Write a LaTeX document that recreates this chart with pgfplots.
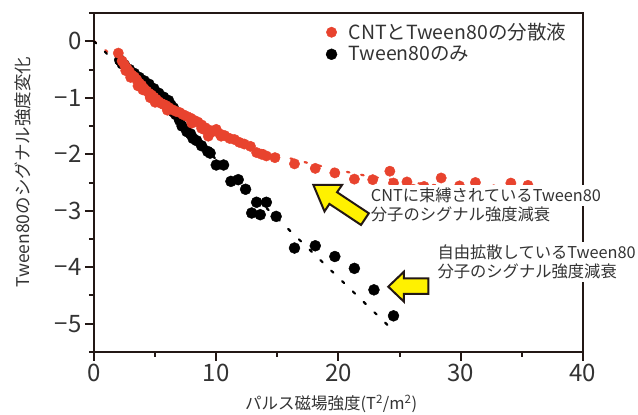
\documentclass[border=0pt]{standalone}
\usepackage{fontspec}
\setmainfont{Noto Sans CJK JP}
\usepackage{pgfplots}
\pgfplotsset{compat=1.18}
\definecolor{dotred}{HTML}{E8432E}
\definecolor{arrowyellow}{HTML}{FFF100}
\definecolor{axisdark}{HTML}{231815}
\definecolor{txtgray}{HTML}{333333}

\begin{document}
\begin{tikzpicture}
\useasboundingbox (-94pt,-63pt) rectangle (544pt,352pt);
\begin{axis}[
    name=main,
    scale only axis,
    width=489pt, height=339pt,
    xmin=0, xmax=40, ymin=-5.5, ymax=0.5,
    xtick={0,10,20,30,40},
    xticklabels={0,10,20,30,40},
    minor xtick={5,15,25,35},
    ytick={-5,-4,-3,-2,-1,0},
    yticklabels={−5,−4,−3,−2,−1,0},
    minor ytick={-5.5,-4.5,-3.5,-2.5,-1.5,-0.5,0.5},
    xtick pos=left, ytick pos=left,
    tick align=outside,
    major tick length=9pt, minor tick length=5pt,
    every tick/.style={axisdark, line width=2pt},
    axis line style={axisdark, line width=2pt},
    tick label style={txtgray, font=\fontsize{24}{28}\selectfont},
    xlabel={パルス磁場強度(T\textsuperscript{2}/m\textsuperscript{2})},
    ylabel={Tween80のシグナル強度変化},
    xlabel style={at={(axis description cs:0.485,-0.153)}, anchor=center, txtgray, font=\fontsize{16.5}{20}\selectfont},
    ylabel style={at={(axis description cs:-0.145,0.53)}, anchor=center, txtgray, font=\fontsize{17.5}{21}\selectfont},
    clip=false,
    reverse legend,
    legend style={draw=none, fill=none, at={(rel axis cs:0.468,0.982)}, anchor=north west,
        font=\fontsize{19.5}{22}\selectfont, text=txtgray, row sep=1pt},
    legend cell align=left,
    legend image code/.code={\draw[#1] plot coordinates {(0cm,0cm)}; \path (15pt,0pt);},
]
% Tween80 only
\addplot[only marks, mark=*, mark size=5.5pt, black] coordinates {
(2.1,-0.33)(2.3,-0.40)(2.5,-0.42)(2.9,-0.50)(3.1,-0.58)(3.3,-0.57)(3.7,-0.64)(3.9,-0.72)
(4.1,-0.70)(4.5,-0.76)(4.7,-0.86)(4.9,-0.84)(5.3,-0.92)(5.5,-1.00)(5.7,-0.99)(6.1,-1.05)
(6.3,-1.13)(6.5,-1.18)(6.7,-1.30)(7.0,-1.40)(7.2,-1.50)(7.6,-1.60)(7.9,-1.64)(8.1,-1.72)
(8.4,-1.76)(8.8,-1.85)(9.3,-1.95)(9.5,-1.98)(10.0,-2.19)(10.6,-2.19)(11.2,-2.48)(11.8,-2.45)
(12.4,-2.62)(13.3,-2.85)(14.1,-2.85)(12.9,-3.04)(13.6,-3.07)(14.9,-3.10)(16.4,-3.66)
(18.1,-3.62)(19.7,-3.81)(21.3,-4.02)(22.9,-4.40)(24.5,-4.86)
};
\addlegendentry{Tween80のみ}
% CNT + Tween80
\addplot[only marks, mark=*, mark size=5.2pt, color=dotred] coordinates {
(1.99,-0.21)(2.3,-0.35)(2.5,-0.42)(2.6,-0.52)(2.7,-0.48)(2.9,-0.54)(3.0,-0.64)(3.1,-0.60)
(3.3,-0.63)(3.5,-0.68)(3.6,-0.79)(3.7,-0.74)(3.9,-0.78)(4.0,-0.86)(4.1,-0.84)(4.3,-0.88)
(4.5,-0.92)(4.6,-1.00)(4.7,-0.95)(4.9,-0.99)(5.0,-1.08)(5.1,-1.03)(5.3,-1.07)(5.5,-1.10)
(5.7,-1.12)(5.9,-1.14)(6.0,-1.22)(6.1,-1.17)(6.4,-1.21)(6.7,-1.24)(7.0,-1.26)(7.3,-1.30)
(7.6,-1.33)(7.9,-1.36)(8.0,-1.45)(8.2,-1.40)(8.5,-1.43)(8.8,-1.48)(8.8,-1.54)(9.0,-1.56)
(9.1,-1.53)(9.35,-1.68)(9.4,-1.57)(9.7,-1.60)(10.0,-1.56)(10.3,-1.64)(10.4,-1.68)(10.7,-1.67)
(11.1,-1.72)(11.5,-1.74)(11.9,-1.79)(12.3,-1.82)(12.8,-1.86)(13.3,-1.97)(13.7,-2.00)
(14.1,-2.03)(14.8,-2.06)
(16.4,-2.17)(18.1,-2.25)(19.7,-2.33)(21.3,-2.44)(22.8,-2.45)(24.2,-2.30)(24.5,-2.51)
(25.6,-2.49)(26.1,-2.62)(27.0,-2.57)(28.4,-2.42)(29.9,-2.56)(31.2,-2.50)(32.7,-2.63)
(34.1,-2.51)(35.5,-2.55)
};
\addlegendentry{CNTとTween80の分散液}
% fitted trends
\addplot[forget plot, dotred, line width=2.2pt, line cap=round, dash pattern=on 2.5pt off 12pt, smooth] coordinates {
(0,0)(1,-0.17)(2,-0.36)(3,-0.56)(4,-0.76)(5,-0.95)(6,-1.12)(7,-1.26)(8,-1.39)(9,-1.50)
(10,-1.60)(12,-1.78)(14,-1.94)(16,-2.07)(18,-2.18)(20,-2.28)(22,-2.37)(24,-2.44)(26,-2.50)
(28,-2.55)(30,-2.60)(32,-2.64)(34,-2.67)(36,-2.71)(38,-2.74)(40,-2.77)
};
\addplot[forget plot, black, line width=2.2pt, line cap=round, dash pattern=on 3pt off 12pt] coordinates {
(0,0)(24,-5.02)
};
% annotation arrows
\draw[fill=arrowyellow, draw=axisdark, line width=2pt, line join=miter]
  (axis cs:17.94,-2.541) -- +(11.2pt,-26.6pt) -- +(16.1pt,-19.1pt) -- +(47.7pt,-40.1pt)
  -- +(55.5pt,-28.5pt) -- +(23.8pt,-7.4pt) -- +(28.8pt,0pt) -- cycle;
\draw[fill=arrowyellow, draw=axisdark, line width=2pt, line join=miter]
  (axis cs:24.07,-4.344) -- +(15.7pt,15pt) -- +(15.7pt,8.4pt) -- +(40pt,8.4pt)
  -- +(40pt,-7.3pt) -- +(15.7pt,-7.3pt) -- +(15.7pt,-15pt) -- cycle;
\end{axis}
% frame: top and right sides, drawn from the axis box anchors
\draw[axisdark, line width=2pt, line cap=rect] (main.north west) -- (main.north east) -- (main.south east);
% annotation texts, white behind them so they break the right frame line
\begin{scope}[every node/.style={anchor=base west, inner xsep=0pt, inner ysep=3pt, fill=white, text=txtgray, font=\fontsize{16.3}{19}\selectfont}]
\node at (276.7pt,150.7pt) {CNTに束縛されているTween80};
\node at (276.7pt,131.7pt) {分子のシグナル強度減衰};
\node at (343.3pt,93.2pt) {自由拡散しているTween80};
\node at (343.3pt,74.7pt) {分子のシグナル強度減衰};
\end{scope}
\end{tikzpicture}
\end{document}
